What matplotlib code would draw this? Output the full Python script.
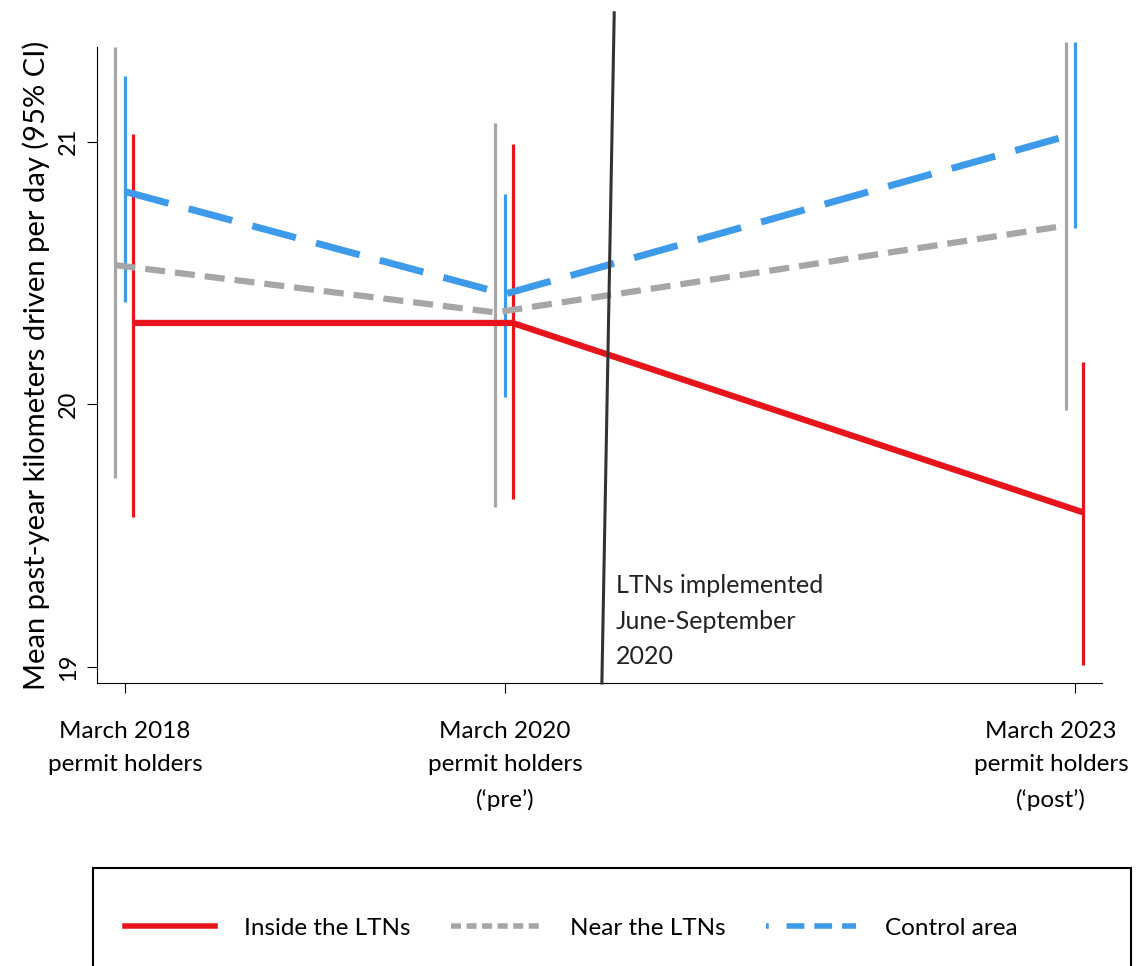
import matplotlib.pyplot as plt
import matplotlib.transforms as mtransforms
from matplotlib.lines import Line2D
from matplotlib.patches import Rectangle

plt.rcParams['font.family'] = ['Lato', 'DejaVu Sans']

# survey waves (x = year of the permit-holder sample)
years = [2018, 2020, 2023]
tick_labels = ['March 2018\npermit holders',
               'March 2020\npermit holders\n(\u2018pre\u2019)',
               'March 2023\npermit holders\n(\u2018post\u2019)']

# means and 95% CI per group
inside_mean = [20.31, 20.31, 19.59]
inside_lo = [19.57, 19.64, 19.01]
inside_hi = [21.03, 20.99, 20.16]

near_mean = [20.53, 20.35, 20.68]
near_lo = [19.72, 19.61, 19.98]
near_hi = [21.36, 21.07, 21.38]

control_mean = [20.81, 20.42, 21.03]
control_lo = [20.39, 20.03, 20.67]
control_hi = [21.25, 20.80, 21.38]

red = '#e8141b'
grey = '#a6a6a6'
blue = '#3d9be9'

fig = plt.figure(figsize=(11.43, 9.66), dpi=100)
ax = fig.add_axes([97/1143, 1-683/966, (1102-97)/1143, (683-47)/966])

groups = [
    (near_mean, near_lo, near_hi, grey, -0.05, (0, (3.2, 1.6)), 4.5),
    (control_mean, control_lo, control_hi, blue, 0.0, (0, (6.5, 3.0)), 5.0),
    (inside_mean, inside_lo, inside_hi, red, 0.04, '-', 4.5),
]
for mean, lo, hi, col, off, ls, lw in groups:
    xs = [y + off for y in years]
    ax.vlines(xs, lo, hi, colors=col, lw=2.3, clip_on=False, zorder=2)
    ax.plot(xs, mean, color=col, ls=ls, lw=lw, clip_on=False, zorder=3,
            solid_capstyle='butt', dash_capstyle='butt')

# LTN implementation marker
ax.plot([2020.51, 2020.575], [18.94, 21.49], color='#333333', lw=2.2,
        clip_on=False, zorder=4)
ax.text(2020.585, 19.353, 'LTNs implemented\nJune-September\n2020',
        fontsize=18, va='top', ha='left', linespacing=1.65, color='#222222')

ax.set_xlim(2017.853, 2023.142)
ax.set_ylim(18.94, 21.36)
ax.set_xticks(years)
ax.set_xticklabels(tick_labels, fontsize=17.5, linespacing=1.75)
ax.set_yticks([19, 20, 21])
ax.set_yticklabels(['19', '20', '21'], fontsize=17, rotation=90, va='center')
ax.tick_params(axis='x', length=7, pad=20)
ax.tick_params(axis='y', length=7, pad=6)
ax.set_ylabel('Mean past-year kilometers driven per day (95% CI)', fontsize=21, labelpad=6)
for s in ['top', 'right']:
    ax.spines[s].set_visible(False)

# last label is pushed left so it stays inside the figure
last = ax.get_xticklabels()[-1]
last.set_transform(last.get_transform() +
                   mtransforms.ScaledTranslation(-0.24, 0, fig.dpi_scale_trans))

# legend box at the bottom
fig.patches.append(Rectangle((93/1143, -0.05), (1131-93)/1143, (966-868)/966 + 0.05,
                             transform=fig.transFigure, fill=False, ec='black', lw=1.5))
handles = [
    Line2D([], [], color=red, lw=4, ls='-'),
    Line2D([], [], color=grey, lw=4, ls=(0, (1.8, 1.0))),
    Line2D([], [], color=blue, lw=4, ls=(0, (0.5, 3.2, 3.2, 1.8, 3.2, 1.8, 3.2, 1.8))),
]
fig.legend(handles, ['Inside the LTNs', 'Near the LTNs', 'Control area'],
           loc='center', bbox_to_anchor=(0.5, 1-928/966), ncol=3, frameon=False,
           fontsize=17.5, handlelength=3.7, handletextpad=1.2, columnspacing=1.65)

fig.savefig('out.png', dpi=100)
